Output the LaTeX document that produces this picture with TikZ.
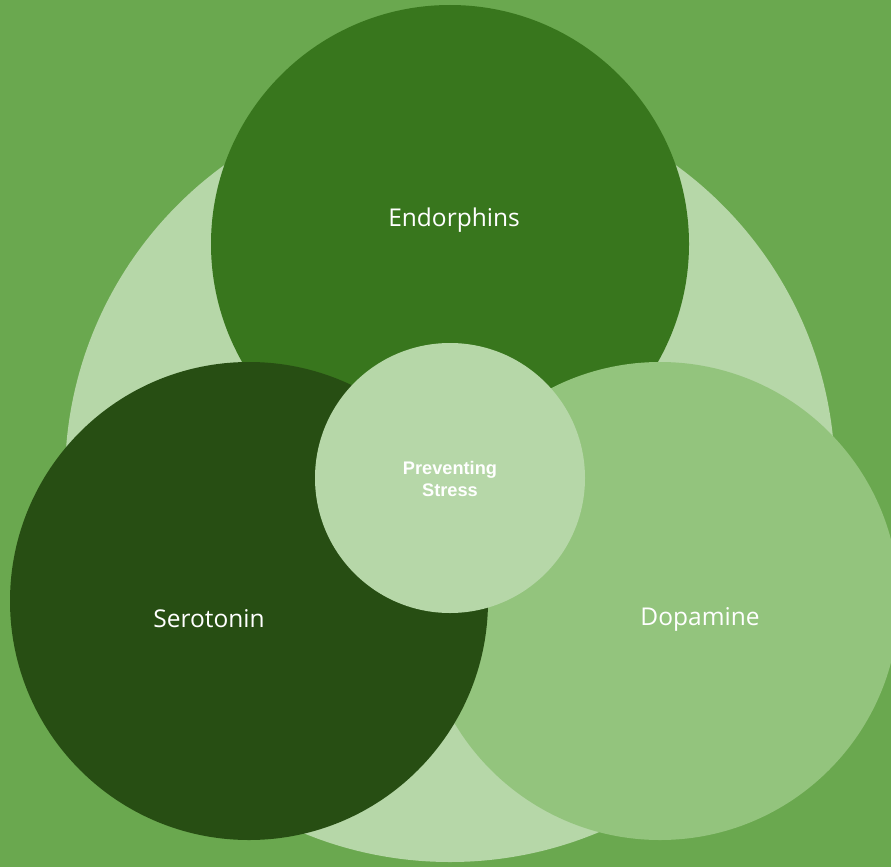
\documentclass[tikz,border=0pt]{standalone}
\usepackage{fontspec}
\setmainfont{Open Sans}
\newfontfamily\labelbold{Liberation Sans}
\definecolor{bggreen}{HTML}{6AA84F}
\definecolor{palegreen}{HTML}{B6D7A8}
\definecolor{midgreen}{HTML}{38761D}
\definecolor{deepgreen}{HTML}{274E13}
\definecolor{softgreen}{HTML}{93C47D}
\tikzset{
  blob/.style={circle, inner sep=0pt, minimum size=#1},
  biglabel/.style={text=white, font=\fontsize{24.5}{29}\selectfont},
  smalllabel/.style={text=white, align=center, font=\labelbold\bfseries\fontsize{18.2}{22}\selectfont}
}
\begin{document}
\begin{tikzpicture}[x=1pt, y=-1pt]
  % page and backdrop
  \fill[bggreen] (0,0) rectangle (891,867);
  \useasboundingbox (0,0) rectangle (891,867);
  \clip (0,0) rectangle (891,867);
  % outer ring and the three overlapping circles
  \node[blob=770pt, fill=palegreen] (ring) at (450,477) {};
  \node[blob=478pt, fill=midgreen] (endo) at (450,244) {};
  \node[blob=478pt, fill=softgreen] (dopa) at (660,601) {};
  \node[blob=478pt, fill=deepgreen] (sero) at (249,601) {};
  \node[blob=270pt, fill=palegreen] (core) at (450,478) {};
  % labels
  \node[biglabel] (endotext) at (454,220) {Endorphins};
  \node[biglabel] (serotext) at (209,619) {Serotonin};
  \node[biglabel] (dopatext) at (700,619) {Dopamine};
  \node[smalllabel] (coretext) at (450,479) {Preventing\\Stress};
\end{tikzpicture}
\end{document}
